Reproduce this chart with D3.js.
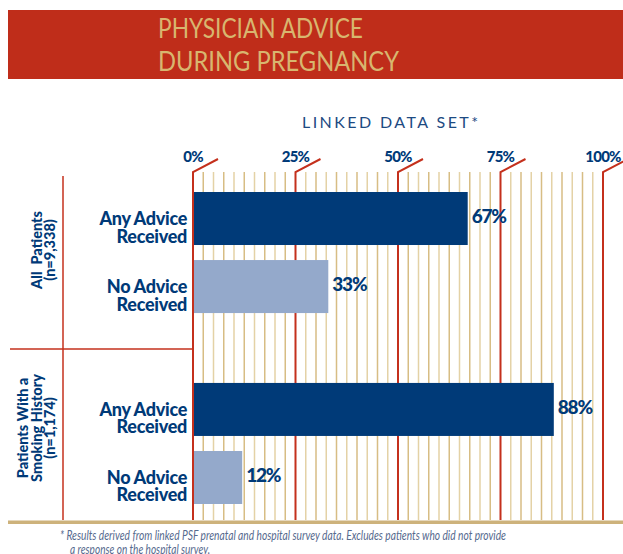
<!DOCTYPE html>
<html>
<head>
<meta charset="utf-8">
<script src="https://cdn.jsdelivr.net/npm/d3@7"></script>
<style>
  body { margin: 0; background: #fff; }
  svg { display: block; font-family: Lato, "Open Sans", sans-serif; }
</style>
</head>
<body>
<script>
// chart data
var titleLines = ["PHYSICIAN ADVICE", "DURING PREGNANCY"];
var subtitle = "LINKED DATA SET*";
var groupLabels = [["All  Patients", "(n=9,338)"], ["Patients With a", "Smoking History", "(n=1,174)"]];
var barLabels = [["Any Advice", "Received"], ["No Advice", "Received"]];
var allPatients = [67, 33];
var smokingHistory = [88, 12];
var tickValues = [0, 25, 50, 75, 100];
var footnote = ["* Results derived from linked PSF prenatal and hospital survey data. Excludes patients who did not provide",
                "a response on the hospital survey."];

var width = 623, height = 554;
var navy = "#003a78", light = "#94a9cb", red = "#c4301c", tan = "#d7bd84";

var svg = d3.select("body").append("svg")
    .attr("width", width)
    .attr("height", height);

// title banner
svg.append("rect")
    .attr("x", 8).attr("y", 10)
    .attr("width", width - 8).attr("height", 69)
    .attr("fill", "#bf2d1a");

svg.selectAll(".title")
    .data(titleLines)
    .enter().append("text")
    .attr("class", "title")
    .attr("x", 158)
    .attr("y", function(d, i) { return 38 + i * 33; })
    .attr("fill", "#d8b66f")
    .attr("font-size", 27)
    .attr("font-weight", 400)
    .attr("textLength", function(d, i) { return i == 0 ? 205 : 241; })
    .attr("lengthAdjust", "spacingAndGlyphs")
    .text(function(d) { return d; });

svg.append("text")
    .attr("x", 302).attr("y", 128)
    .attr("fill", "#1d4a82")
    .attr("font-size", 16)
    .attr("textLength", 176)
    .attr("lengthAdjust", "spacing")
    .text(subtitle);

// scales
var x = d3.scaleLinear().domain([0, 100]).range([193, 603]);
var yGroup = d3.scaleBand().domain([0, 1]).range([192, 504]).paddingInner(0.366);
var yBar = d3.scaleBand().domain([0, 1]).range([0, yGroup.bandwidth()]).paddingInner(0.221);

var gridTop = 172, gridBottom = 520;

// minor grid lines every 2.5%
var minor = d3.range(0, 100.1, 2.5).filter(function(v) { return v % 25 != 0; });
svg.selectAll(".minor")
    .data(minor)
    .enter().append("line")
    .attr("class", "minor")
    .attr("x1", function(d) { return x(d); })
    .attr("x2", function(d) { return x(d); })
    .attr("y1", gridTop).attr("y2", gridBottom)
    .attr("stroke", function(d, i) { return i % 2 ? "#e4d2a6" : tan; })
    .attr("stroke-width", 1.5);

// major lines with slanted ticks
var major = svg.selectAll(".major")
    .data(tickValues)
    .enter().append("g")
    .attr("class", "major");

major.append("path")
    .attr("d", function(d) {
      return "M" + (x(d) + 25) + "," + (gridTop - 13) + "L" + x(d) + "," + gridTop + "L" + x(d) + "," + gridBottom;
    })
    .attr("fill", "none")
    .attr("stroke", red)
    .attr("stroke-width", 2);

major.append("text")
    .attr("x", function(d) { return x(d); })
    .attr("y", 162)
    .attr("text-anchor", "middle")
    .attr("fill", navy)
    .attr("font-size", 15)
    .attr("font-weight", 900)
    .attr("letter-spacing", -0.8)
    .text(function(d) { return d + "%"; });

// left frame
svg.append("line")
    .attr("x1", 63).attr("x2", 63)
    .attr("y1", 176).attr("y2", gridBottom)
    .attr("stroke", red).attr("stroke-width", 1.5);
svg.append("line")
    .attr("x1", 10).attr("x2", 193)
    .attr("y1", 349).attr("y2", 349)
    .attr("stroke", red).attr("stroke-width", 1.5);

// bars
var series = [allPatients, smokingHistory];

series.forEach(function(values, gi) {
  var g = svg.append("g")
      .attr("transform", "translate(0," + yGroup(gi) + ")");

  g.selectAll(".bar")
      .data(values)
      .enter().append("rect")
      .attr("class", "bar")
      .attr("x", x(0) + 1)
      .attr("y", function(d, i) { return yBar(i); })
      .attr("width", function(d) { return x(d) - x(0) - 1; })
      .attr("height", yBar.bandwidth())
      .attr("fill", function(d, i) { return i == 0 ? navy : light; });

  g.selectAll(".value")
      .data(values)
      .enter().append("text")
      .attr("class", "value")
      .attr("x", function(d) { return x(d) + 4; })
      .attr("y", function(d, i) { return yBar(i) + yBar.bandwidth() / 2 + 4.5; })
      .attr("fill", navy)
      .attr("font-size", 19)
      .attr("font-weight", 900)
      .attr("letter-spacing", -1.2)
      .text(function(d) { return d + "%"; });

  // category labels
  barLabels.forEach(function(lines, i) {
    g.append("text")
        .attr("text-anchor", "end")
        .attr("fill", navy)
        .attr("font-size", 18)
        .attr("font-weight", 900)
        .attr("letter-spacing", -0.3)
        .selectAll("tspan")
        .data(lines)
        .enter().append("tspan")
        .attr("x", 187)
        .attr("y", function(d, j) { return yBar(i) + yBar.bandwidth() / 2 + 6.5 + j * 17.5; })
        .text(function(d) { return d; });
  });

  // group label, rotated
  var lines = groupLabels[gi];
  var cy = gi == 0 ? 250 : 428;
  svg.append("text")
      .attr("transform", "rotate(-90)")
      .attr("text-anchor", "middle")
      .attr("fill", navy)
      .attr("font-size", 14.5)
      .attr("font-weight", 900)
      .style("white-space", "pre")
      .selectAll("tspan")
      .data(lines)
      .enter().append("tspan")
      .attr("x", -cy)
      .attr("y", function(d, j) { return 55 - (lines.length - 1 - j) * 13.5; })
      .text(function(d) { return d; });
});

// bottom rule
svg.append("rect")
    .attr("x", 8).attr("y", 520.5)
    .attr("width", width - 8).attr("height", 3.5)
    .attr("fill", "#cdb27b");

svg.selectAll(".foot")
    .data(footnote)
    .enter().append("text")
    .attr("class", "foot")
    .attr("x", function(d, i) { return i == 0 ? 60 : 70; })
    .attr("y", function(d, i) { return 540 + i * 14; })
    .attr("fill", "#566a8e")
    .attr("font-size", 13)
    .attr("font-style", "italic")
    .attr("textLength", function(d, i) { return i == 0 ? 446 : 140; })
    .attr("lengthAdjust", "spacingAndGlyphs")
    .text(function(d) { return d; });
</script>
</body>
</html>
